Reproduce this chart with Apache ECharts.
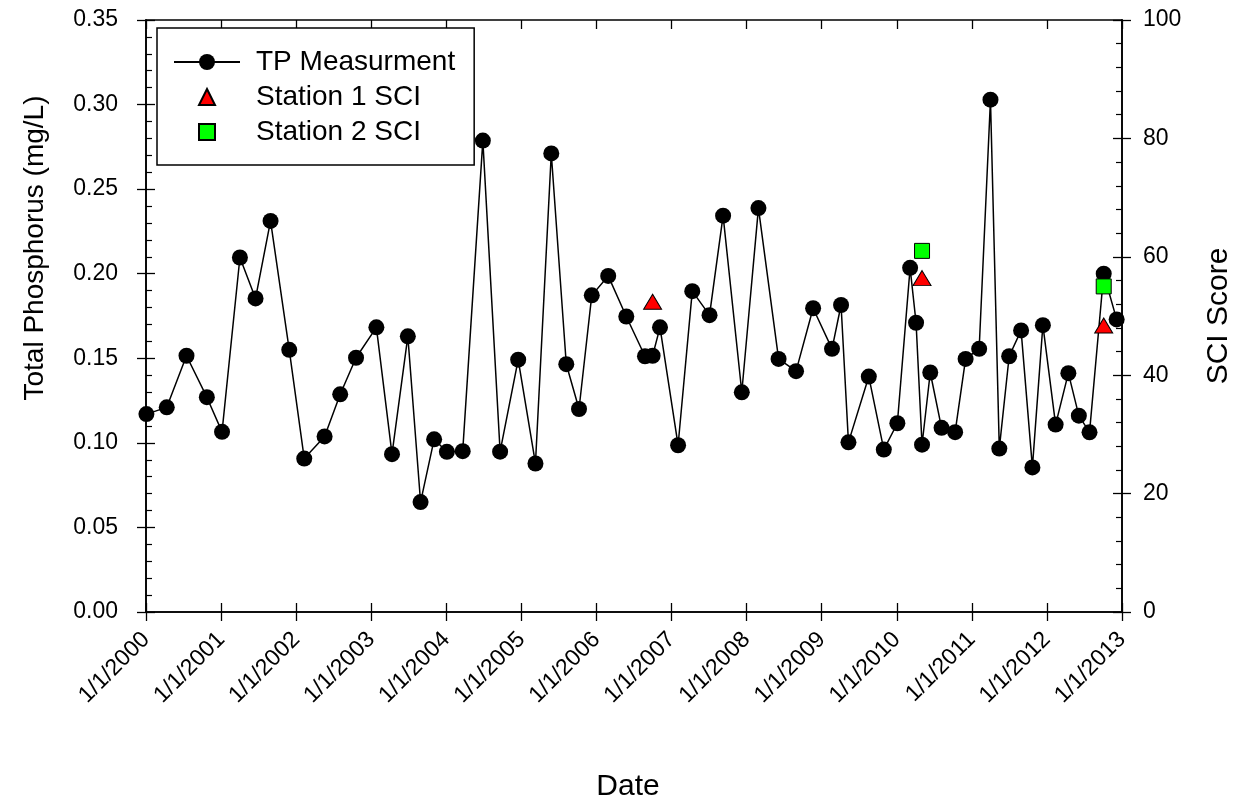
<!DOCTYPE html>
<html>
<head>
<meta charset="utf-8">
<style>html,body{margin:0;padding:0;background:#fff;}#c{width:1246px;height:807px;}</style>
<script src="https://cdn.jsdelivr.net/npm/echarts@6/dist/echarts.min.js"></script>
</head>
<body>
<div id="c"></div>
<script>
const tpDates = ["2000-01-03","2000-04-11","2000-07-16","2000-10-23","2001-01-05","2001-04-02","2001-06-17","2001-08-29","2001-11-28","2002-02-09","2002-05-19","2002-08-03","2002-10-19","2003-01-26","2003-04-12","2003-06-28","2003-08-29","2003-11-03","2004-01-04","2004-03-21","2004-06-27","2004-09-19","2004-12-16","2005-03-10","2005-05-26","2005-08-07","2005-10-08","2005-12-09","2006-02-27","2006-05-26","2006-08-25","2006-10-01","2006-11-06","2007-02-02","2007-04-12","2007-07-05","2007-09-09","2007-12-09","2008-02-28","2008-06-05","2008-08-29","2008-11-20","2009-02-20","2009-04-05","2009-05-11","2009-08-18","2009-10-30","2010-01-04","2010-03-07","2010-04-05","2010-05-04","2010-06-13","2010-08-07","2010-10-12","2010-12-02","2011-02-06","2011-04-02","2011-05-15","2011-07-02","2011-08-29","2011-10-23","2011-12-13","2012-02-13","2012-04-15","2012-06-05","2012-07-27","2012-10-04","2012-12-06"];
const tpValues = [0.117,0.121,0.1515,0.127,0.1065,0.2096,0.1854,0.2312,0.155,0.0907,0.1038,0.1287,0.1503,0.1683,0.0933,0.163,0.065,0.1021,0.0947,0.0951,0.2787,0.0948,0.1492,0.0878,0.2711,0.1465,0.12,0.1872,0.1987,0.1747,0.1512,0.1515,0.1683,0.0986,0.1897,0.1755,0.2343,0.1299,0.2388,0.1496,0.1424,0.1796,0.1556,0.1815,0.1003,0.1392,0.096,0.1116,0.2035,0.171,0.0989,0.1416,0.1089,0.1063,0.1496,0.1556,0.3029,0.0966,0.1512,0.1665,0.0855,0.1696,0.1108,0.1412,0.1161,0.1062,0.2,0.173];
const sci1Dates = ["2006-10-01","2010-05-04","2012-10-04"];
const sci1Values = [52.4,56.4,48.4];
const sci2Dates = ["2010-05-04","2012-10-04"];
const sci2Values = [61.0,55.0];
const tickYears = [2000,2001,2002,2003,2004,2005,2006,2007,2008,2009,2010,2011,2012,2013];

const ts = s => { const p = s.split('-').map(Number); return Date.UTC(p[0], p[1]-1, p[2]); };
const yearTs = tickYears.map(y => Date.UTC(y,0,1));
const xMin = yearTs[0], xMax = yearTs[yearTs.length-1];
const FONT = 'Liberation Sans, Arial, sans-serif';
const lineCol = '#000';

function xAx(pos, inside, labels, extra) {
  return Object.assign({
    type: 'value', min: xMin, max: xMax, position: pos,
    axisLine: { show: true, onZero: false, lineStyle: { color: lineCol, width: 1.6 } },
    axisTick: { show: true, inside: inside, length: 9, customValues: yearTs, lineStyle: { color: lineCol, width: 1.3 } },
    axisLabel: labels ? {
      show: true, customValues: yearTs, rotate: 45, margin: 24,
      fontFamily: FONT, fontSize: 23, color: '#000',
      formatter: v => '1/1/' + new Date(v).getUTCFullYear()
    } : { show: false },
    splitLine: { show: false }
  }, extra || {});
}
function yAx(pos, min, max, interval, inside, labels, minor, fmt, margin, extra) {
  return Object.assign({
    type: 'value', min: min, max: max, interval: interval, position: pos,
    axisLine: { show: true, onZero: false, lineStyle: { color: lineCol, width: 1.6 } },
    axisTick: { show: true, inside: inside, length: 9, lineStyle: { color: lineCol, width: 1.3 } },
    minorTick: { show: minor, splitNumber: 5, length: 6, lineStyle: { color: lineCol, width: 1.2 } },
    axisLabel: labels ? { show: true, margin: margin, fontFamily: FONT, fontSize: 23, color: '#000', formatter: fmt } : { show: false },
    splitLine: { show: false }, minorSplitLine: { show: false }
  }, extra || {});
}

const chart = echarts.init(document.getElementById('c'), null, { renderer: 'canvas' });
chart.setOption({
  backgroundColor: '#fff',
  animation: false,
  grid: { left: 146, right: 124, top: 20, bottom: 191, containLabel: false },
  legend: {
    left: 157, top: 28, orient: 'vertical',
    backgroundColor: '#fff', borderColor: '#000', borderWidth: 1.5,
    padding: [20, 19, 19, 16], itemGap: 7, itemWidth: 66, itemHeight: 20,
    textStyle: { fontFamily: FONT, fontSize: 28, color: '#000', padding: [0, 0, 0, 11] },
    data: ['TP Measurment', 'Station 1 SCI', 'Station 2 SCI']
  },
  xAxis: [
    xAx('bottom', false, true, {
      name: 'Date', nameLocation: 'middle', nameGap: 160,
      nameTextStyle: { fontFamily: FONT, fontSize: 30, color: '#000', padding: [0, 12, 0, 0] }
    }),
    xAx('bottom', true, false),
    xAx('top', true, false)
  ],
  yAxis: [
    yAx('left', 0, 0.35, 0.05, false, true, false, v => v.toFixed(2), 28, {
      name: 'Total Phosphorus (mg/L)', nameLocation: 'middle', nameGap: 97, nameRotate: 90,
      nameTextStyle: { fontFamily: FONT, fontSize: 28, color: '#000', padding: [0, 0, 0, 136] }
    }),
    yAx('right', 0, 100, 20, false, true, false, v => String(v), 21, {
      name: 'SCI Score', nameLocation: 'middle', nameGap: 82, nameRotate: 90,
      nameTextStyle: { fontFamily: FONT, fontSize: 30, color: '#000' }
    }),
    yAx('left', 0, 0.35, 0.05, true, false, true, null, 0),
    yAx('right', 0, 100, 20, true, false, true, null, 0)
  ],
  series: [
    {
      name: 'TP Measurment', type: 'line', xAxisIndex: 0, yAxisIndex: 0,
      data: tpDates.map((d, i) => [ts(d), tpValues[i]]),
      symbol: 'circle', symbolSize: 16, showAllSymbol: true,
      lineStyle: { color: '#000', width: 1.5 },
      itemStyle: { color: '#000', borderColor: '#000', borderWidth: 0 },
      z: 3
    },
    {
      name: 'Station 1 SCI', type: 'line', xAxisIndex: 0, yAxisIndex: 1,
      data: sci1Dates.map((d, i) => [ts(d), sci1Values[i]]),
      symbol: 'triangle', symbolSize: [18, 15], showAllSymbol: true,
      lineStyle: { width: 0, opacity: 0 },
      itemStyle: { color: '#ff0000', borderColor: '#000', borderWidth: 1 },
      z: 4
    },
    {
      name: 'Station 2 SCI', type: 'line', xAxisIndex: 0, yAxisIndex: 1,
      data: sci2Dates.map((d, i) => [ts(d), sci2Values[i]]),
      symbol: 'rect', symbolSize: 15, showAllSymbol: true,
      lineStyle: { width: 0, opacity: 0 },
      itemStyle: { color: '#00ff00', borderColor: '#000', borderWidth: 1 },
      z: 4
    }
  ]
});
</script>
</body>
</html>
